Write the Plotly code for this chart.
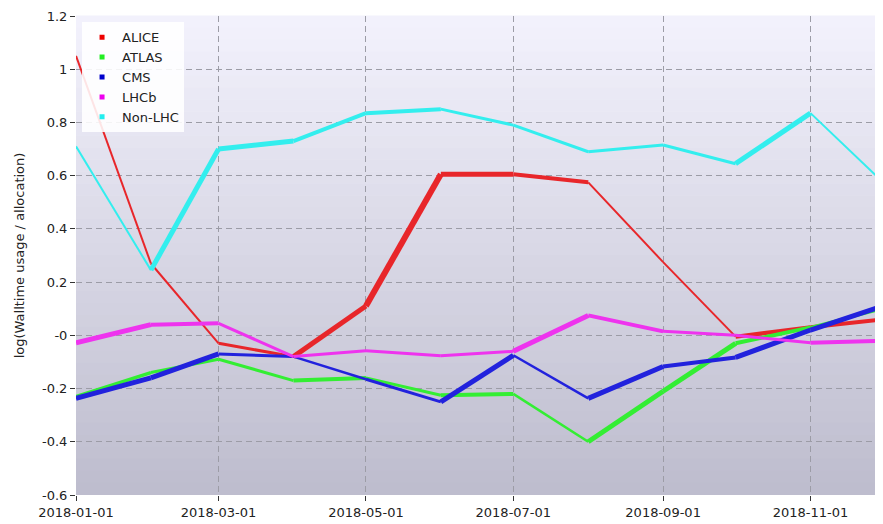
import plotly.graph_objects as go

months = ["2018-01-01", "2018-02-01", "2018-03-01", "2018-04-01", "2018-05-01", "2018-06-01",
          "2018-07-01", "2018-08-01", "2018-09-01", "2018-10-01", "2018-11-01", "2018-12-01"]

alice = [1.05, 0.27, -0.03, -0.08, 0.11, 0.605, 0.605, 0.575, 0.275, -0.005, 0.03, 0.06]
atlas = [-0.23, -0.14, -0.09, -0.17, -0.16, -0.225, -0.22, -0.40, -0.21, -0.03, 0.03, 0.10]
cms = [-0.237, -0.16, -0.07, -0.08, -0.165, -0.25, -0.075, -0.237, -0.117, -0.083, 0.02, 0.11]
lhcb = [-0.028, 0.04, 0.045, -0.08, -0.058, -0.077, -0.06, 0.075, 0.015, 0.0, -0.028, -0.02]
nonlhc = [0.71, 0.245, 0.70, 0.73, 0.835, 0.85, 0.79, 0.69, 0.715, 0.645, 0.835, 0.575]

series_names = ["ALICE", "ATLAS", "CMS", "LHCb", "Non-LHC"]
series_values = [alice, atlas, cms, lhcb, nonlhc]

ytick_vals = [1.2, 1.0, 0.8, 0.6, 0.4, 0.2, 0.0, -0.2, -0.4, -0.6]
ytick_text = ["1.2", "1", "0.8", "0.6", "0.4", "0.2", "-0", "-0.2", "-0.4", "-0.6"]

# styles (kept separate from data)
line_colors = ["#e8262a", "#33ee33", "#2222dd", "#ee33ee", "#33eeee"]
legend_colors = ["#ee0000", "#22ee22", "#0000cc", "#ee00ee", "#22eeee"]
segment_widths = [
    [2, 2, 3, 5, 6, 5, 4, 2, 2, 4, 4],
    [3.5, 3, 3, 4, 3, 4, 2.5, 5, 5, 4, 3],
    [5, 5, 3, 2.5, 3, 5, 2.5, 5, 4, 5, 5],
    [5, 4, 3, 3, 3, 3, 5, 4, 3, 3, 4],
    [2, 5, 5, 4, 4, 3, 3, 3, 3, 5, 2],
]

fig = go.Figure()

for name, vals, col, widths in zip(series_names, series_values, line_colors, segment_widths):
    for i in range(len(months) - 1):
        fig.add_trace(go.Scatter(
            x=months[i:i + 2], y=vals[i:i + 2], mode="lines",
            line=dict(color=col, width=widths[i]),
            legendgroup=name, showlegend=False, hoverinfo="skip",
        ))

for name, col in zip(series_names, legend_colors):
    fig.add_trace(go.Scatter(
        x=[None], y=[None], mode="markers", name=name, legendgroup=name,
        marker=dict(symbol="square", size=5, color=col),
    ))

# vertical gradient background
n_bands = 40
top = (243, 242, 253)
bot = (189, 188, 205)
shapes = []
for k in range(n_bands):
    t = (k + 0.5) / n_bands
    c = tuple(int(round(top[j] + (bot[j] - top[j]) * t)) for j in range(3))
    shapes.append(dict(
        type="rect", xref="x domain", yref="y domain",
        x0=0, x1=1, y0=1 - (k + 1) / n_bands, y1=1 - k / n_bands + 0.001,
        fillcolor="rgb(%d,%d,%d)" % c, line=dict(width=0), layer="below",
    ))

# page body adds an 8px offset, so the figure is sized to fit the window
fig.update_layout(
    width=875, height=516,
    margin=dict(l=68, r=0, t=8, b=29, autoexpand=False),
    paper_bgcolor="white", plot_bgcolor="rgba(0,0,0,0)",
    font=dict(family="DejaVu Sans", size=13, color="#222222"),
    shapes=shapes,
    showlegend=True,
    legend=dict(
        x=0.0075, y=0.987, xanchor="left", yanchor="top",
        bgcolor="rgba(255,255,255,0.88)", borderwidth=0,
        font=dict(family="DejaVu Sans", size=13, color="#222222"),
        itemsizing="trace", tracegroupgap=0, itemwidth=30,
    ),
)

fig.update_xaxes(
    type="date", range=["2018-01-01", "2018-12-01"],
    tick0="2018-01-01", dtick="M2", tickformat="%Y-%m-%d",
    showgrid=True, gridcolor="#9c9ca6", griddash="6px,4px", gridwidth=1,
    ticks="outside", ticklen=5, tickcolor="#333333",
    showline=False, zeroline=False, automargin=False,
    tickfont=dict(size=13, color="#222222"),
)
fig.update_yaxes(
    range=[-0.6, 1.2], tickvals=ytick_vals, ticktext=ytick_text,
    showgrid=True, gridcolor="#9c9ca6", griddash="6px,4px", gridwidth=1,
    ticks="outside", ticklen=5, tickcolor="#333333",
    showline=False, zeroline=False, automargin=False,
    tickfont=dict(size=13, color="#222222"),
    title=dict(text="log(Walltime usage / allocation)", font=dict(size=13, color="#222222"), standoff=14),
)

fig.write_html("out.html")
